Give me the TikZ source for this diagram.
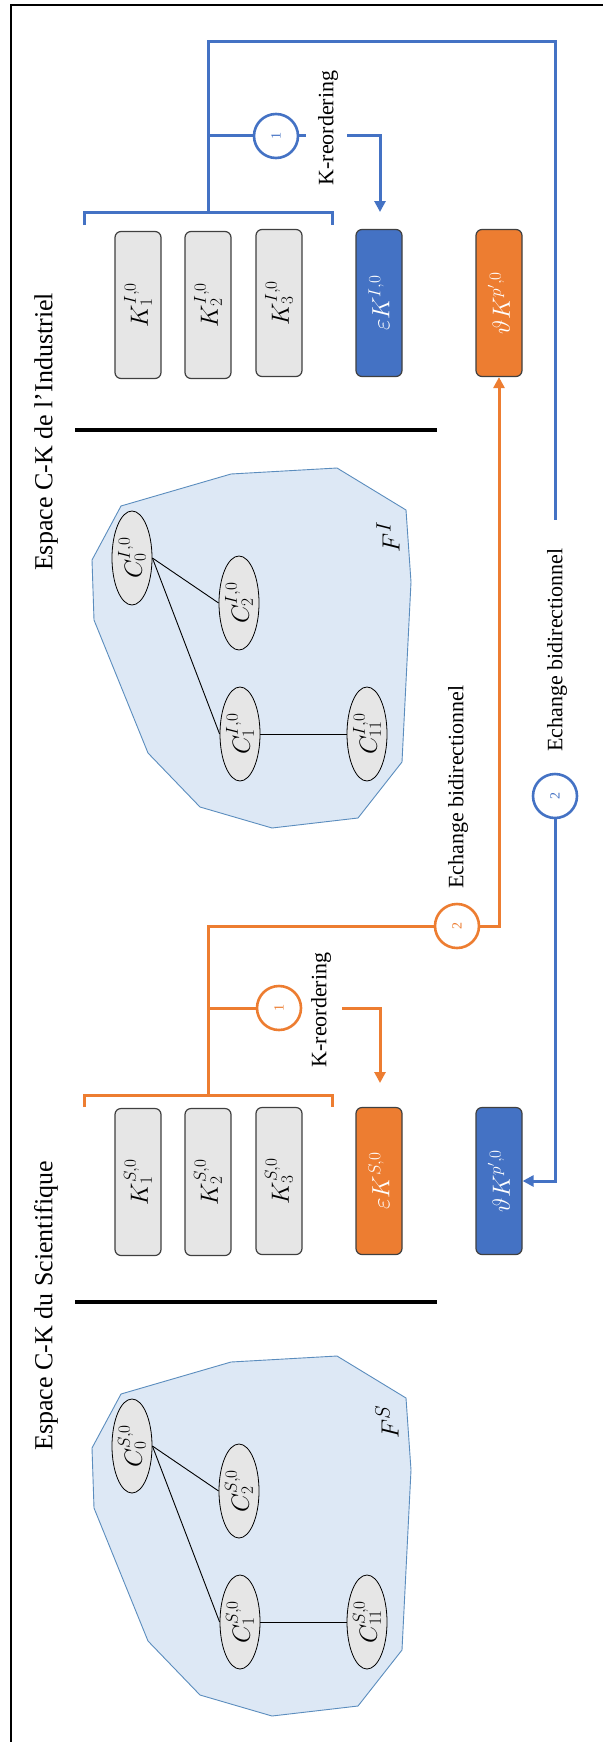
\documentclass[tikz,border=0pt]{standalone}
\usepackage{fontspec}
\setmainfont{Liberation Serif}
\usetikzlibrary{arrows.meta,shapes.geometric}
\definecolor{cblue}{HTML}{4472C4}
\definecolor{corange}{HTML}{ED7D31}
\definecolor{polyfill}{HTML}{DDE8F5}
\definecolor{polyedge}{HTML}{5B8DBE}
\definecolor{boxgray}{HTML}{E6E6E6}
\definecolor{boxedge}{HTML}{404040}
\begin{document}
\begin{tikzpicture}[x=1pt,y=-1pt,
 kbox/.style={draw=boxedge,line width=1.2pt,rounded corners=6pt,minimum width=46pt,minimum height=147pt,inner sep=0pt,fill=boxgray,font=\fontsize{26}{30}\selectfont},
 ebox/.style={kbox,fill=#1,text=white},
 cnode/.style={draw=black,line width=0.8pt,ellipse,fill=boxgray,minimum width=40pt,minimum height=94pt,inner sep=0pt,font=\fontsize{23}{26}\selectfont},
 zone/.style={draw=polyedge,fill=polyfill,line width=0.9pt},
 numc/.style={circle,draw=#1,line width=2.6pt,fill=white,minimum size=44pt,inner sep=0pt,text=#1,font=\fontsize{14}{16}\selectfont},
 link/.style={draw=#1,line width=3pt},
 tip/.style={-{Triangle[width=11pt,length=11pt]}},
 lbl/.style={rotate=90,inner sep=0pt,font=\fontsize{22}{26}\selectfont},
 flbl/.style={rotate=90,inner sep=0pt,font=\fontsize{28}{32}\selectfont},
 title/.style={rotate=90,inner sep=0pt,font=\fontsize{26}{30}\selectfont},
 sep/.style={line width=4pt},
]
\useasboundingbox (0,0) rectangle (603,1742);
\fill[white] (0,0) rectangle (603,1742);
% frame
\draw[line width=1.6pt] (11,1742) -- (11,5) -- (603,5);

% ===== Industriel (top) =====
\node[title] (tI) at (46,432) {Espace C-K de l’Industriel};
\draw[sep] (75,430) -- (437,430);
\draw[zone] (121,506) -- (231,474) -- (337,468) -- (406,510) -- (411,582) -- (402,762) -- (358,818) -- (272,828) -- (200,807) -- (148,753) -- (94,620) -- (92,560) -- cycle;
\node[cnode] (cI0) at (132,558) {\rotatebox{90}{$C^{I,0}_0$}};
\node[cnode] (cI2) at (239,603) {\rotatebox{90}{$C^{I,0}_2$}};
\node[cnode] (cI1) at (240,734) {\rotatebox{90}{$C^{I,0}_1$}};
\node[cnode] (cI11) at (367,734) {\rotatebox{90}{$C^{I,0}_{11}$}};
\draw[line width=0.9pt] (cI0.east) -- (cI2.west);
\draw[line width=0.9pt] (cI0.east) -- (cI1.west);
\draw[line width=0.9pt] (cI1.east) -- (cI11.west);
\node[flbl] (fI) at (388,537) {$F^{I}$};

\node[kbox] (kI1) at (138,305) {\rotatebox{90}{$K^{I,0}_1$}};
\node[kbox] (kI2) at (208,305) {\rotatebox{90}{$K^{I,0}_2$}};
\node[kbox] (kI3) at (279,303) {\rotatebox{90}{$K^{I,0}_3$}};
\node[ebox=cblue] (eKI) at (379,303) {\rotatebox{90}{$\varepsilon K^{I,0}$}};
\node[ebox=corange] (tKI) at (499,303) {\rotatebox{90}{$\vartheta K^{p',0}$}};

% blue bracket and links
\draw[link=cblue] (84,225) -- (84,212) -- (332,212) -- (332,225);
\coordinate (bI) at (208,212);
\draw[link=cblue] (bI) -- (208,42) -- (555,42) -- (555,520);
\node[numc=cblue] (c1I) at (276,136) {\rotatebox{90}{1}};
\draw[link=cblue] (208,136) -- (c1I.west);
\draw[link=cblue] (c1I.east) -- (306,136);
\node[lbl] (krI) at (328,128) {K-reordering};
\coordinate (aI) at (380,212);
\draw[link=cblue,tip] (347,136) -- (380,136) -- (aI);
\node[lbl] (ebI) at (557,650) {Echange bidirectionnel};
\node[numc=cblue] (c2I) at (555,796) {\rotatebox{90}{2}};

% ===== Scientifique (bottom) =====
\node[title] (tS) at (46,1306) {Espace C-K du Scientifique};
\draw[sep] (75,1302) -- (437,1302);
\draw[zone] (121,1394) -- (231,1362) -- (337,1356) -- (406,1398) -- (411,1470) -- (402,1650) -- (358,1706) -- (272,1716) -- (200,1695) -- (148,1641) -- (94,1508) -- (92,1448) -- cycle;
\node[cnode] (cS0) at (132,1446) {\rotatebox{90}{$C^{S,0}_0$}};
\node[cnode] (cS2) at (239,1491) {\rotatebox{90}{$C^{S,0}_2$}};
\node[cnode] (cS1) at (240,1622) {\rotatebox{90}{$C^{S,0}_1$}};
\node[cnode] (cS11) at (367,1622) {\rotatebox{90}{$C^{S,0}_{11}$}};
\draw[line width=0.9pt] (cS0.east) -- (cS2.west);
\draw[line width=0.9pt] (cS0.east) -- (cS1.west);
\draw[line width=0.9pt] (cS1.east) -- (cS11.west);
\node[flbl] (fS) at (387,1422) {$F^{S}$};

\node[kbox] (kS1) at (138,1182) {\rotatebox{90}{$K^{S,0}_1$}};
\node[kbox] (kS2) at (208,1182) {\rotatebox{90}{$K^{S,0}_2$}};
\node[kbox] (kS3) at (279,1181) {\rotatebox{90}{$K^{S,0}_3$}};
\node[ebox=corange] (eKS) at (379,1181) {\rotatebox{90}{$\varepsilon K^{S,0}$}};
\node[ebox=cblue] (tKS) at (499,1181) {\rotatebox{90}{$\vartheta K^{p',0}$}};

% orange bracket and links
\draw[link=corange] (84,1107) -- (84,1095) -- (332,1095) -- (332,1107);
\coordinate (bS) at (208,1095);
\node[numc=corange] (c2S) at (457,926) {\rotatebox{90}{2}};
\draw[link=corange] (bS) -- (208,926) -- (c2S.west);
\draw[link=corange,tip] (c2S.east) -- (499,926) -- (tKI.south);
\node[lbl] (ebS) at (458,787) {Echange bidirectionnel};
\node[numc=corange] (c1S) at (279,1008) {\rotatebox{90}{1}};
\draw[link=corange] (208,1008) -- (c1S.west);
\node[lbl] (krS) at (321,1010) {K-reordering};
\coordinate (aS) at (380,1083);
\draw[link=corange,tip] (342,1008) -- (380,1008) -- (aS);

% blue return link
\draw[link=cblue,tip] (c2I.south) -- (555,1181) -- (tKS.east);
\end{tikzpicture}
\end{document}
